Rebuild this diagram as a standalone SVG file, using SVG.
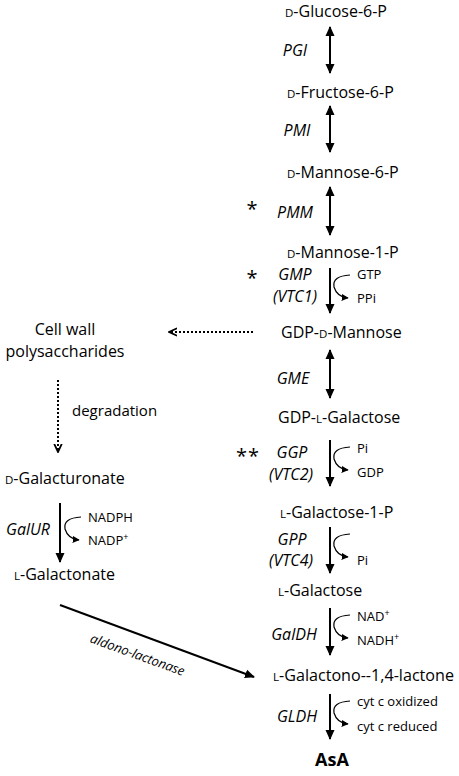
<svg xmlns="http://www.w3.org/2000/svg" width="459" height="776" viewBox="0 0 459 776">
<style>
text{font-family:"Open Sans","Liberation Sans",sans-serif;font-size:16px;fill:#000}
.e{font-style:italic}
.s{font-size:13px}
.sc{font-size:11.5px}
.sup{font-size:9px}
.b{font-weight:bold;font-size:18px}
.ast{font-size:20px}
.ln{stroke:#000;stroke-width:2;fill:none}
.cv{stroke:#000;stroke-width:1.2;fill:none}
.dt{stroke:#000;stroke-width:2;fill:none;stroke-dasharray:2 2}
</style>
<defs>
<marker id="ah" viewBox="0 0 10 10" refX="9" refY="5" markerWidth="10" markerHeight="10" markerUnits="userSpaceOnUse" orient="auto-start-reverse"><path d="M0,0.5 L10,5 L0,9.5 z" fill="#000"/></marker>
<marker id="sa" viewBox="0 0 10 10" refX="9" refY="5" markerWidth="7" markerHeight="7" markerUnits="userSpaceOnUse" orient="auto"><path d="M0,0 L10,5 L0,10 z" fill="#000"/></marker>
<marker id="ch" viewBox="0 0 10 10" refX="9" refY="5" markerWidth="9" markerHeight="10" markerUnits="userSpaceOnUse" orient="auto"><path d="M0,0.8 L9,5 L0,9.2" fill="none" stroke="#000" stroke-width="2"/></marker>
</defs>

<g id="connectors">
<line class="ln" x1="330" y1="27" x2="330" y2="73" marker-start="url(#ah)" marker-end="url(#ah)"/>
<line class="ln" x1="330" y1="106" x2="330" y2="152" marker-start="url(#ah)" marker-end="url(#ah)"/>
<line class="ln" x1="330" y1="187" x2="330" y2="235" marker-start="url(#ah)" marker-end="url(#ah)"/>
<line class="ln" x1="330" y1="268" x2="330" y2="313" marker-end="url(#ah)"/>
<path class="cv" d="M350,275 Q332,276 334,287 Q337,297 348,298" marker-end="url(#sa)"/>
<line class="ln" x1="330" y1="350" x2="330" y2="398" marker-start="url(#ah)" marker-end="url(#ah)"/>
<line class="ln" x1="330" y1="440" x2="330" y2="486" marker-end="url(#ah)"/>
<path class="cv" d="M350,447 Q332,448 334,459 Q337,469 348,470" marker-end="url(#sa)"/>
<line class="ln" x1="330" y1="527" x2="330" y2="573" marker-end="url(#ah)"/>
<path class="cv" d="M350,534 Q332,535 334,546 Q337,556 348,557" marker-end="url(#sa)"/>
<line class="ln" x1="330" y1="608" x2="330" y2="655" marker-end="url(#ah)"/>
<path class="cv" d="M350,615 Q332,616 334,627 Q337,637 348,638" marker-end="url(#sa)"/>
<line class="ln" x1="330" y1="694" x2="330" y2="739" marker-end="url(#ah)"/>
<path class="cv" d="M350,701 Q332,702 334,713 Q337,723 348,724" marker-end="url(#sa)"/>
<line class="dt" x1="253" y1="332" x2="169" y2="332" marker-end="url(#ch)"/>
<line class="dt" x1="58" y1="380" x2="58" y2="452" marker-end="url(#ch)"/>
<line class="ln" x1="60" y1="503" x2="60" y2="562" marker-end="url(#ah)"/>
<path class="cv" d="M81,517 Q63,518 65,529 Q68,539 79,540" marker-end="url(#sa)"/>
<line class="ln" x1="60" y1="605" x2="254" y2="677" marker-end="url(#ah)"/>
</g>

<g id="n-glc6p"><text x="285" y="17"><tspan class="sc">D</tspan>-Glucose-6-P</text></g>
<g id="n-fru6p"><text x="287" y="98"><tspan class="sc">D</tspan>-Fructose-6-P</text></g>
<g id="n-man6p"><text x="287" y="178"><tspan class="sc">D</tspan>-Mannose-6-P</text></g>
<g id="n-man1p"><text x="287" y="258"><tspan class="sc">D</tspan>-Mannose-1-P</text></g>
<g id="n-gdpman"><text x="281" y="338">GDP-<tspan class="sc">D</tspan>-Mannose</text></g>
<g id="n-gdpgal"><text x="278" y="423">GDP-<tspan class="sc">L</tspan>-Galactose</text></g>
<g id="n-gal1p"><text x="280" y="518"><tspan class="sc">L</tspan>-Galactose-1-P</text></g>
<g id="n-gal"><text x="278" y="596"><tspan class="sc">L</tspan>-Galactose</text></g>
<g id="n-gall"><text x="273" y="681" textLength="181" lengthAdjust="spacingAndGlyphs"><tspan class="sc">L</tspan>-Galactono--1,4-lactone</text></g>
<g id="n-asa"><text class="b" x="332" y="766" text-anchor="middle">AsA</text></g>
<g id="n-cellwall"><text x="65" y="335" text-anchor="middle">Cell wall</text><text x="65" y="357" text-anchor="middle">polysaccharides</text></g>
<g id="n-galur"><text x="5" y="484"><tspan class="sc">D</tspan>-Galacturonate</text></g>
<g id="n-galn"><text x="14" y="580"><tspan class="sc">L</tspan>-Galactonate</text></g>

<g id="labels">
<text class="e" x="295" y="56" text-anchor="middle">PGI</text>
<text class="e" x="297" y="136" text-anchor="middle">PMI</text>
<text class="e" x="295" y="218" text-anchor="middle">PMM</text>
<text class="ast" x="252" y="216" text-anchor="middle">*</text>
<text class="e" x="295" y="280" text-anchor="middle">GMP</text>
<text class="e" x="295" y="302" text-anchor="middle">(VTC1)</text>
<text class="ast" x="252" y="285" text-anchor="middle">*</text>
<text class="s" x="357" y="279">GTP</text>
<text class="s" x="357" y="303">PPi</text>
<text class="e" x="293" y="384" text-anchor="middle">GME</text>
<text class="e" x="292" y="458" text-anchor="middle">GGP</text>
<text class="e" x="291" y="480" text-anchor="middle">(VTC2)</text>
<text class="ast" x="248" y="463" text-anchor="middle" letter-spacing="1">**</text>
<text class="s" x="357" y="453">Pi</text>
<text class="s" x="357" y="477">GDP</text>
<text class="e" x="292" y="545" text-anchor="middle">GPP</text>
<text class="e" x="291" y="566" text-anchor="middle">(VTC4)</text>
<text class="s" x="357" y="565">Pi</text>
<text class="e" x="294" y="640" text-anchor="middle">GalDH</text>
<text class="s" x="357" y="621">NAD<tspan class="sup" dy="-5">+</tspan></text>
<text class="s" x="357" y="645">NADH<tspan class="sup" dy="-5">+</tspan></text>
<text class="e" x="297" y="722" text-anchor="middle">GLDH</text>
<text class="s" x="357" y="706">cyt c oxidized</text>
<text class="s" x="357" y="731">cyt c reduced</text>
<text x="72" y="416" style="font-size:15px">degradation</text>
<text class="e" x="28" y="535" text-anchor="middle">GalUR</text>
<text class="s" x="88" y="522">NADPH</text>
<text class="s" x="88" y="545">NADP<tspan class="sup" dy="-5">+</tspan></text>
<text class="e s" x="0" y="0" text-anchor="middle" transform="translate(136,659) rotate(20)">aldono-lactonase</text>
</g>
</svg>
